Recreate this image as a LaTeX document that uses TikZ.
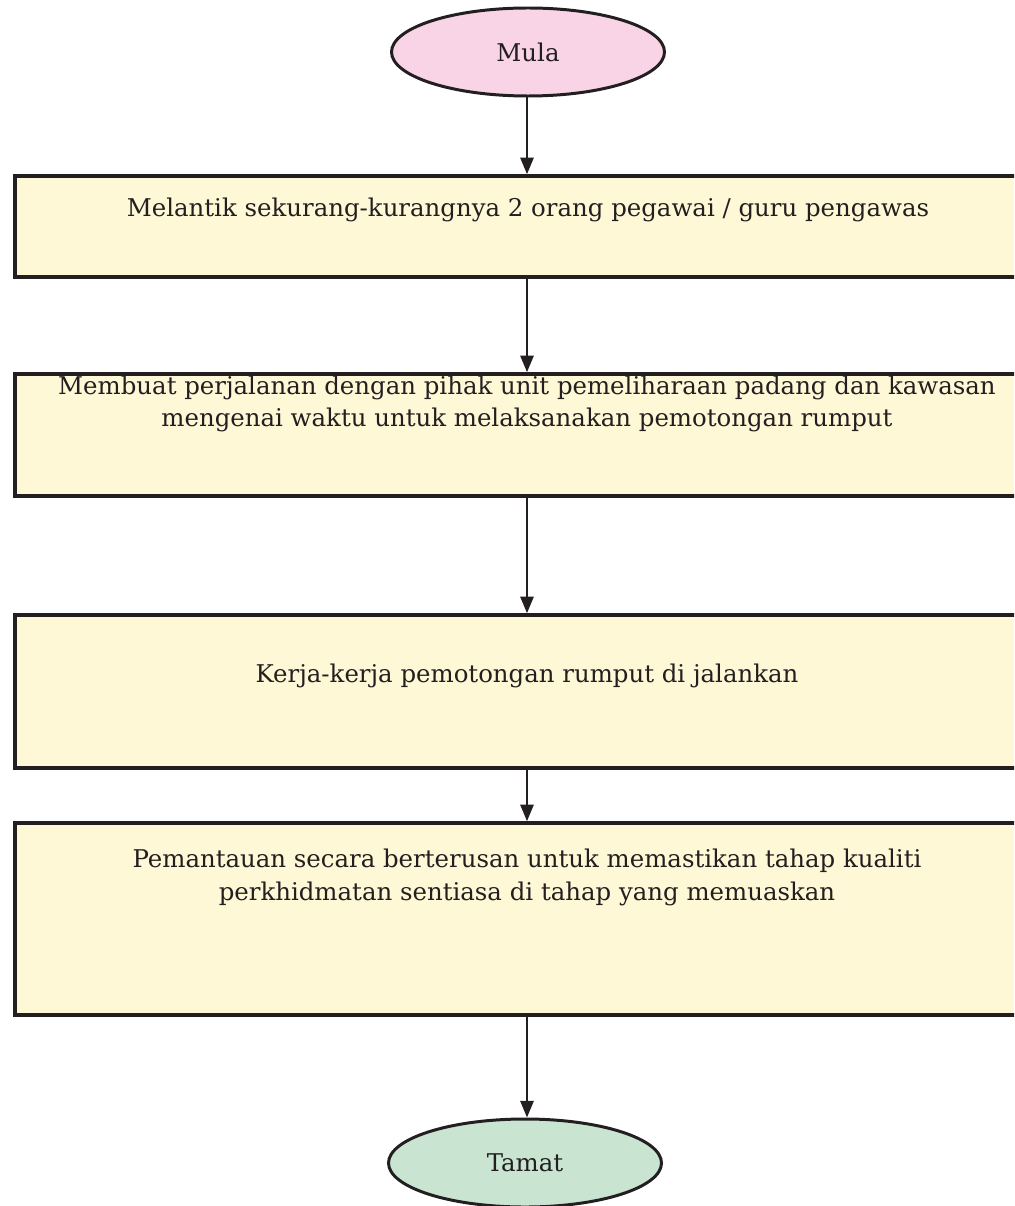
\documentclass[tikz,border=0pt]{standalone}
\usepackage{fontspec}
\setmainfont{DejaVu Serif}
\usetikzlibrary{shapes.geometric,arrows.meta}
\definecolor{ink}{HTML}{231F20}
\definecolor{startfill}{HTML}{F8D4E6}
\definecolor{stepfill}{HTML}{FFF8D6}
\definecolor{endfill}{HTML}{C9E5D2}
\tikzset{
  terminal/.style={ellipse, draw=ink, line width=1.7pt, minimum width=273*0.02cm, minimum height=88*0.02cm, inner sep=0pt},
  stepbox/.style={rectangle, draw=ink, fill=stepfill, line width=2pt, minimum width=1030*0.02cm, inner sep=0pt},
  txt/.style={text=ink, font=\fontsize{13.9}{18.7}\selectfont, align=center, inner sep=0pt},
  flow/.style={draw=ink, line width=1.4pt, -{Triangle[length=9.5pt,width=7.5pt]}}
}
\begin{document}
\begin{tikzpicture}[x=0.02cm, y=-0.02cm]
\useasboundingbox (0,0) rectangle (1014,1206);
\clip (0,0) rectangle (1014,1206);
% start and end terminals
\node[terminal, fill=startfill] (start) at (528,52) {};
\node[txt] (tstart) at (528,52) {Mula};
\node[terminal, fill=endfill] (stop) at (525,1163) {};
\node[txt] (tstop) at (525,1163) {Tamat};
% process boxes
\node[stepbox, minimum height=101*0.02cm] (b1) at (530,226.5) {};
\node[stepbox, minimum height=122*0.02cm] (b2) at (530,435) {};
\node[stepbox, minimum height=153*0.02cm] (b3) at (530,691.5) {};
\node[stepbox, minimum height=192*0.02cm] (b4) at (530,919) {};
% box texts
\node[txt] (t1) at (528,210) {Melantik sekurang-kurangnya 2 orang pegawai / guru pengawas};
\node[txt] (t2) at (527,404) {Membuat perjalanan dengan pihak unit pemeliharaan padang dan kawasan\\mengenai waktu untuk melaksanakan pemotongan rumput};
\node[txt] (t3) at (527,676) {Kerja-kerja pemotongan rumput di jalankan};
\node[txt] (t4) at (527,877) {Pemantauan secara berterusan untuk memastikan tahap kualiti\\perkhidmatan sentiasa di tahap yang memuaskan};
% connectors
\draw[flow] (start.south -| 527,0) -- (b1.north -| 527,0);
\draw[flow] (b1.south -| 527,0) -- (b2.north -| 527,0);
\draw[flow] (b2.south -| 527,0) -- (b3.north -| 527,0);
\draw[flow] (b3.south -| 527,0) -- (b4.north -| 527,0);
\draw[flow] (b4.south -| 527,0) -- (stop.north -| 527,0);
\end{tikzpicture}
\end{document}
